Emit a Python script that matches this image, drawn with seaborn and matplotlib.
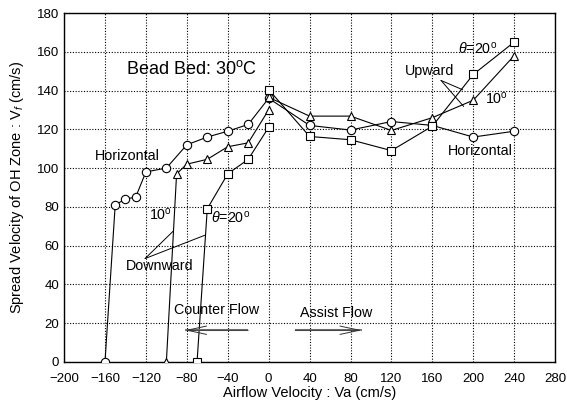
import matplotlib
matplotlib.use('Agg')
import matplotlib.pyplot as plt
import seaborn as sns

# Flame spread velocity data
horiz_x = [-160, -150, -140, -130, -120, -100, -80, -60, -40, -20, 0, 40, 80, 120, 160, 200, 240]
horiz_y = [0, 81, 84, 85, 98, 100, 112, 116, 119, 122.5, 136, 122, 119.6, 124, 122, 116, 119]

down10_x = [-100, -90, -80, -60, -40, -20, 0]
down10_y = [0, 97, 102, 104.5, 111, 113, 130]

down20_x = [-70, -60, -40, -20, 0]
down20_y = [0, 79, 97, 104.5, 121]

up10_x = [0, 40, 80, 120, 160, 200, 240]
up10_y = [136.5, 126.8, 126.8, 119.4, 126, 135, 158]

up20_x = [0, 40, 80, 120, 160, 200, 240]
up20_y = [140.5, 116.3, 114.6, 109, 121.6, 148.3, 165]

x_ticks = list(range(-200, 281, 40))
y_ticks = list(range(0, 181, 20))

sns.set_style("white")
plt.rcParams['font.family'] = ['Liberation Sans', 'DejaVu Sans']
plt.rcParams['mathtext.fontset'] = 'custom'
plt.rcParams['mathtext.rm'] = 'Liberation Sans'
plt.rcParams['mathtext.it'] = 'Liberation Sans:italic'
plt.rcParams['text.color'] = 'black'
plt.rcParams['axes.labelcolor'] = 'black'

fig = plt.figure(figsize=(5.67, 4.07), dpi=100)
ax = fig.add_axes([0.113, 0.111, 0.866, 0.857])

style = dict(color='black', linewidth=0.8, markerfacecolor='white',
             markeredgecolor='black', markeredgewidth=0.8, markersize=6,
             estimator=None, sort=False, legend=False, zorder=3)
sns.lineplot(x=horiz_x, y=horiz_y, marker='o', ax=ax, **style)
sns.lineplot(x=down10_x, y=down10_y, marker='^', ax=ax, **style)
sns.lineplot(x=up10_x, y=up10_y, marker='^', ax=ax, **style)
sns.lineplot(x=down20_x, y=down20_y, marker='s', ax=ax, **style)
sns.lineplot(x=up20_x, y=up20_y, marker='s', ax=ax, **style)

ax.set_xlim(-200, 280)
ax.set_ylim(0, 180)
ax.set_xticks(x_ticks)
ax.set_yticks(y_ticks)
ax.grid(True, color='black', linestyle=(0, (1, 1.5)), linewidth=0.8)
ax.tick_params(direction='in', length=4, width=0.8, labelsize=9.5, colors='black')
ax.tick_params(axis='x', pad=8)
for s in ax.spines.values():
    s.set_color('black')
    s.set_linewidth(1.0)

ax.set_xlabel('Airflow Velocity : Va (cm/s)', fontsize=10.5, labelpad=1)
ax.set_ylabel('Spread Velocity of OH Zone : V$_f$ (cm/s)', fontsize=10.5, labelpad=8)

# annotations
fs = 10.3
ax.text(-75, 151, r'Bead Bed: 30$^\mathrm{o}$C', fontsize=13, ha='center', va='center')
ax.text(-138, 106, 'Horizontal', fontsize=fs, ha='center', va='center')
ax.text(207, 108.6, 'Horizontal', fontsize=fs, ha='center', va='center')
ax.text(157, 150, 'Upward', fontsize=fs, ha='center', va='center')
ax.text(204, 161.5, r'$\mathit{\theta}$=20$^\mathrm{o}$', fontsize=fs, ha='center', va='center')
ax.text(223, 136, r'10$^\mathrm{o}$', fontsize=fs, ha='center', va='center')
ax.text(-106, 76, r'10$^\mathrm{o}$', fontsize=fs, ha='center', va='center')
ax.text(-37, 74.5, r'$\mathit{\theta}$=20$^\mathrm{o}$', fontsize=fs, ha='center', va='center')
ax.text(-107, 49.3, 'Downward', fontsize=fs, ha='center', va='center')
ax.text(-51, 26.6, 'Counter Flow', fontsize=fs, ha='center', va='center')
ax.text(66, 25, 'Assist Flow', fontsize=fs, ha='center', va='center')

# pointer lines
ax.plot([168.5, 189.7], [145.2, 140.4], color='black', lw=0.7, zorder=4)
ax.plot([168.5, 190.6], [145.2, 131.8], color='black', lw=0.7, zorder=4)
ax.plot([-120.8, -93.2], [53.3, 67.5], color='black', lw=0.7, zorder=4)
ax.plot([-120.8, -62.5], [53.3, 65.3], color='black', lw=0.7, zorder=4)

# flow direction arrows: grey shaft, thin dark open head
for x0, x1 in [(-20, -82), (26, 91)]:
    ax.plot([x0, x1], [16.3, 16.3], color='#808080', lw=1.5, zorder=4,
            solid_capstyle='butt')
    ax.annotate('', xy=(x1, 16.3), xytext=(x0, 16.3), zorder=5,
                arrowprops=dict(arrowstyle='->,head_length=1.4,head_width=0.3',
                                color='#303030', lw=0.7, shrinkA=0, shrinkB=0))

fig.savefig('out.png', dpi=100)
